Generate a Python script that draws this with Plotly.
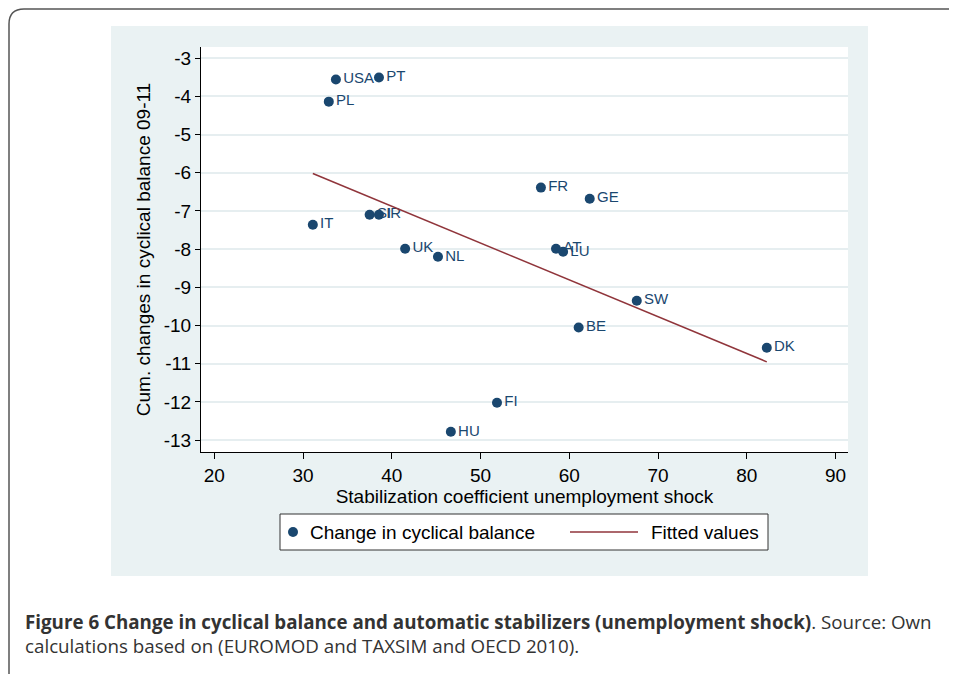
import plotly.graph_objects as go

countries = ["USA", "PT", "PL", "FR", "GE", "SI", "IR", "IT", "UK", "NL",
             "AT", "LU", "SW", "BE", "DK", "FI", "HU"]
stab_coef = [33.7, 38.55, 32.9, 56.8, 62.3, 37.5, 38.55, 31.1, 41.5, 45.2,
             58.5, 59.3, 67.6, 61.05, 82.25, 51.85, 46.65]
cyc_change = [-3.56, -3.51, -4.14, -6.39, -6.68, -7.10, -7.10, -7.36, -7.99, -8.20,
              -7.99, -8.07, -9.35, -10.05, -10.58, -12.02, -12.78]
fit_x = [31.1, 82.25]
fit_y = [-6.02, -10.95]
x_ticks = [20, 30, 40, 50, 60, 70, 80, 90]
x_tick_labels = ["20", "30", "40", "50", "60", "70", "80", "90"]
y_ticks = [-3, -4, -5, -6, -7, -8, -9, -10, -11, -12, -13]
y_tick_labels = ["-3", "-4", "-5", "-6", "-7", "-8", "-9", "-10", "-11", "-12", "-13"]
legend_labels = ["Change in cyclical balance", "Fitted values"]

OFF = 8  # page body margin
W, H = 957 - OFF, 674 - OFF
# plot area in page pixels
L, R, T, B = 201, 848, 47, 452
PW, PH = R - L, B - T


def px(x):
    return (x - L) / PW


def py(y):
    return (B - y) / PH


navy = "#1a476f"
maroon = "#90353b"
font_fam = "Liberation Sans, Arial, sans-serif"
FS = 19

fig = go.Figure()
fig.add_trace(go.Scatter(
    x=stab_coef, y=cyc_change, mode="markers+text", text=countries,
    textposition="middle right",
    textfont=dict(size=15, color=navy, family=font_fam),
    marker=dict(size=10, color=navy),
    name=legend_labels[0], cliponaxis=False, showlegend=False,
))
fig.add_trace(go.Scatter(
    x=fit_x, y=fit_y, mode="lines",
    line=dict(color=maroon, width=1.5),
    name=legend_labels[1], showlegend=False,
))

LEG_Y = 532
shapes = [
    # gray graph region
    dict(type="rect", xref="paper", yref="paper", layer="below",
         x0=px(111), x1=px(868), y0=py(576), y1=py(26),
         fillcolor="#eaf2f3", line=dict(width=0)),
    # white plot region
    dict(type="rect", xref="paper", yref="paper", layer="below",
         x0=0, x1=1, y0=0, y1=1,
         fillcolor="white", line=dict(width=0)),
    # outer rounded frame
    dict(type="path", xref="paper", yref="paper", layer="above",
         path=(f"M {px(9)},{py(690)} L {px(9)},{py(24)} "
               f"Q {px(9)},{py(9)} {px(24)},{py(9)} L {px(975)},{py(9)}"),
         line=dict(color="#555555", width=1.5)),
    # legend box
    dict(type="rect", xref="paper", yref="paper", layer="above",
         x0=px(280), x1=px(768), y0=py(550), y1=py(514),
         fillcolor="white", line=dict(color="#333333", width=1)),
    # legend marker
    dict(type="circle", xref="paper", yref="paper", layer="above",
         x0=px(288), x1=px(298), y0=py(LEG_Y + 5), y1=py(LEG_Y - 5),
         fillcolor=navy, line=dict(width=0)),
    # legend line
    dict(type="line", xref="paper", yref="paper", layer="above",
         x0=px(570), x1=px(638), y0=py(LEG_Y), y1=py(LEG_Y),
         line=dict(color=maroon, width=1.5)),
]

annotations = [
    dict(xref="paper", yref="paper", x=px(308), y=py(LEG_Y), xanchor="left",
         yanchor="middle", showarrow=False, text=legend_labels[0],
         font=dict(size=FS, color="black")),
    dict(xref="paper", yref="paper", x=px(649), y=py(LEG_Y), xanchor="left",
         yanchor="middle", showarrow=False, text=legend_labels[1],
         font=dict(size=FS, color="black")),
    dict(xref="paper", yref="paper", x=px(23), y=py(633), xanchor="left",
         yanchor="middle", align="left", showarrow=False,
         text=("<b>Figure 6 Change in cyclical balance and automatic stabilizers "
               "(unemployment shock)</b>. Source: Own<br>"
               "calculations based on (EUROMOD and TAXSIM and OECD 2010)."),
         font=dict(family="Open Sans, sans-serif", size=18.75, color="#333333")),
]

fig.update_layout(
    width=W, height=H,
    margin=dict(l=L - OFF, r=W - (R - OFF), t=T - OFF, b=H - (B - OFF),
                autoexpand=False),
    paper_bgcolor="white", plot_bgcolor="white",
    font=dict(family=font_fam, size=FS, color="black"),
    shapes=shapes,
    annotations=annotations,
    showlegend=False,
    xaxis=dict(range=[18.5, 91.4], tickvals=x_ticks, ticktext=x_tick_labels,
               showgrid=False, tickfont=dict(size=FS),
               zeroline=False, showline=True, linecolor="black", linewidth=1,
               ticks="outside", ticklen=6, tickcolor="black",
               title=dict(text="Stabilization coefficient unemployment shock",
                          standoff=2, font=dict(size=FS))),
    yaxis=dict(range=[-13.31, -2.71], tickvals=y_ticks, ticktext=y_tick_labels,
               showgrid=True, gridcolor="#e6eef0", gridwidth=1.5,
               tickfont=dict(size=FS),
               zeroline=False, showline=True, linecolor="black", linewidth=1,
               ticks="outside", ticklen=5, tickcolor="black",
               title=dict(text="Cum. changes in cyclical balance 09-11",
                          standoff=8, font=dict(size=FS))),
)

fig.write_html("out.html")
